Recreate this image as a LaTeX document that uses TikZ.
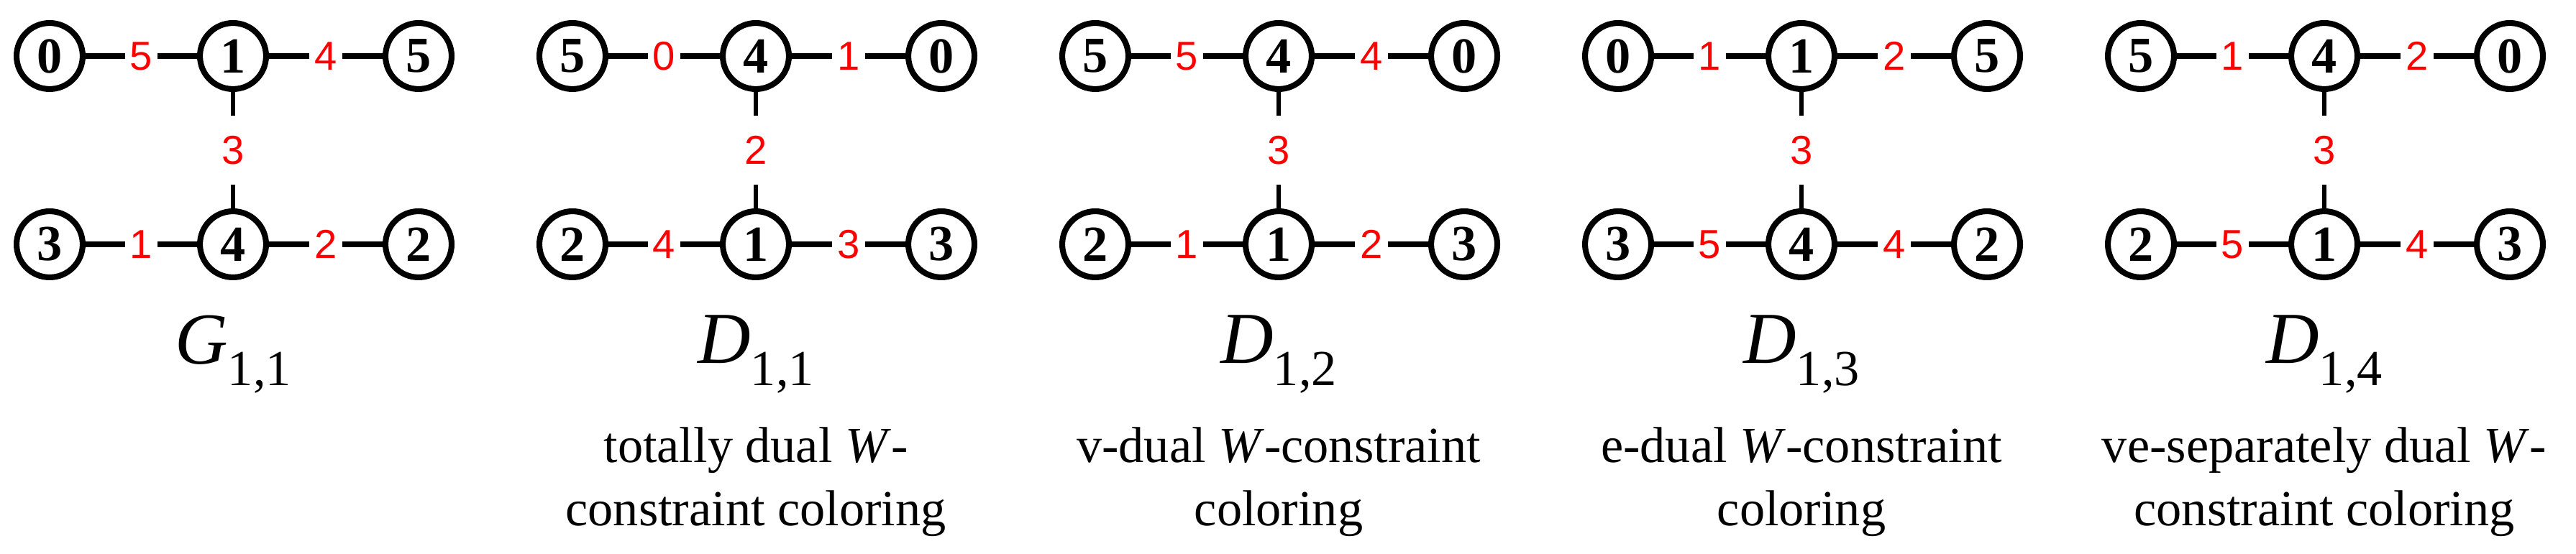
\documentclass[tikz,border=0pt]{standalone}
\usepackage{fontspec}
\setmainfont{Liberation Serif}
\newfontfamily\lblfont{Liberation Sans}
\begin{document}
\begin{tikzpicture}[vtx/.style={circle, draw, line width=2.3pt, minimum size=1cm-\pgflinewidth, inner sep=0pt, font=\fontsize{20}{20}\selectfont\bfseries},
    elbl/.style={fill=white, text=red, inner sep=2pt, font=\lblfont\fontsize{16}{16}\selectfont},
    ttl/.style={font=\fontsize{29}{29}\selectfont},
    note/.style={font=\fontsize{20}{25}\selectfont, align=center}]
    \useasboundingbox (0,0) rectangle (35.82,7.71);
    \foreach \i/\ta/\tb/\tc/\ba/\bb/\bc/\ea/\eb/\ev/\ec/\ed/\name/\txt in {
        0/0/1/5/3/4/2/5/4/3/1/2/G/{},
        1/5/4/0/2/1/3/0/1/2/4/3/D/{totally dual \textit{W}-\\constraint coloring},
        2/5/4/0/2/1/3/5/4/3/1/2/D/{v-dual \textit{W}-constraint\\coloring},
        3/0/1/5/3/4/2/1/2/3/5/4/D/{e-dual \textit{W}-constraint\\coloring},
        4/5/4/0/2/1/3/1/2/3/5/4/D/{ve-separately dual \textit{W}-\\constraint coloring}} {
        \begin{scope}[xshift=7.27*\i cm]
            \node[vtx] (tl\i) at (0.69, 6.93) {\ta};
            \node[vtx] (tm\i) at (3.24, 6.93) {\tb};
            \node[vtx] (tr\i) at (5.82, 6.93) {\tc};
            \node[vtx] (bl\i) at (0.69, 4.31) {\ba};
            \node[vtx] (bm\i) at (3.24, 4.31) {\bb};
            \node[vtx] (br\i) at (5.82, 4.31) {\bc};
            \draw[line width=2.3pt] (tl\i) -- node[elbl] {\ea} (tm\i);
            \draw[line width=2.3pt] (tm\i) -- node[elbl] {\eb} (tr\i);
            \draw[line width=1.6pt] (tm\i) -- node[elbl, inner sep=8pt] {\ev} (bm\i);
            \draw[line width=2.3pt] (bl\i) -- node[elbl] {\ec} (bm\i);
            \draw[line width=2.3pt] (bm\i) -- node[elbl] {\ed} (br\i);
            \node[ttl] (ttl\i) at (3.24, 2.78) {\textit{\name}\raisebox{-0.3em}{\fontsize{20}{20}\selectfont 1,\ifnum\i=0 1\else\i\fi}};
            \node[note] (note\i) at (3.24, 1.0) {\txt};
        \end{scope}
    }
\end{tikzpicture}
\end{document}
